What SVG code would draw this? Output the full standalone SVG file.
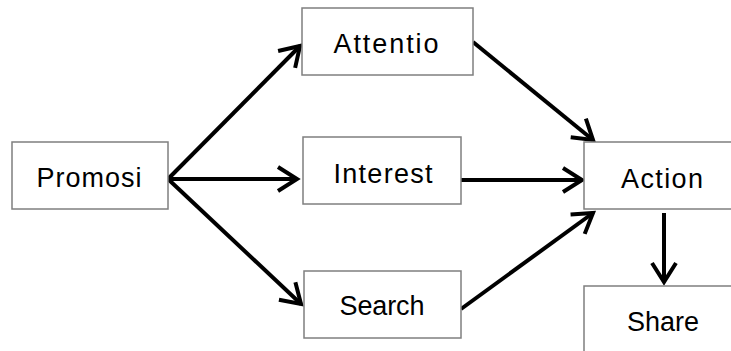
<svg xmlns="http://www.w3.org/2000/svg" width="731" height="351" viewBox="0 0 731 351">
<style>
.box{fill:#fff;stroke:#7f7f7f;stroke-width:1.5}
.lbl{font-family:"Liberation Sans",Arial,sans-serif;font-size:27px;fill:#000;text-anchor:middle}
.edge{stroke:#000;stroke-width:4;fill:none;marker-end:url(#ah)}
</style>
<defs>
<marker id="ah" markerUnits="userSpaceOnUse" viewBox="-24 -16 28 32" refX="0" refY="0" markerWidth="28" markerHeight="32" orient="auto">
<path d="M-19,-12 L0,0 L-19,12" fill="none" stroke="#000" stroke-width="4" stroke-linejoin="miter"/>
</marker>
</defs>
<rect width="731" height="351" fill="#fff"/>
<g id="connectors">
<line class="edge" x1="168" y1="179" x2="300" y2="46"/>
<line class="edge" x1="168" y1="179" x2="297" y2="179"/>
<line class="edge" x1="168" y1="179" x2="301" y2="304"/>
<line class="edge" x1="473" y1="42" x2="593" y2="140"/>
<line class="edge" x1="461" y1="180" x2="582" y2="180"/>
<line class="edge" x1="461" y1="309" x2="593" y2="213"/>
<line class="edge" x1="664" y1="213" x2="664" y2="282"/>
</g>
<g id="promosi"><rect class="box" x="12" y="142" width="156" height="67"/><text class="lbl" x="89" y="187" textLength="105" lengthAdjust="spacing">Promosi</text></g>
<g id="attentio"><rect class="box" x="302" y="8" width="171" height="67"/><text class="lbl" x="386" y="53" textLength="105" lengthAdjust="spacing">Attentio</text></g>
<g id="interest"><rect class="box" x="303" y="137" width="158" height="67"/><text class="lbl" x="383" y="183" textLength="99" lengthAdjust="spacing">Interest</text></g>
<g id="search"><rect class="box" x="304" y="271" width="157" height="67"/><text class="lbl" x="382" y="315" textLength="85" lengthAdjust="spacing">Search</text></g>
<g id="action"><rect class="box" x="584" y="142" width="160" height="67"/><text class="lbl" x="662" y="188" textLength="82" lengthAdjust="spacing">Action</text></g>
<g id="share"><rect class="box" x="584" y="286" width="160" height="80"/><text class="lbl" x="663" y="331" textLength="72" lengthAdjust="spacing">Share</text></g>
</svg>
